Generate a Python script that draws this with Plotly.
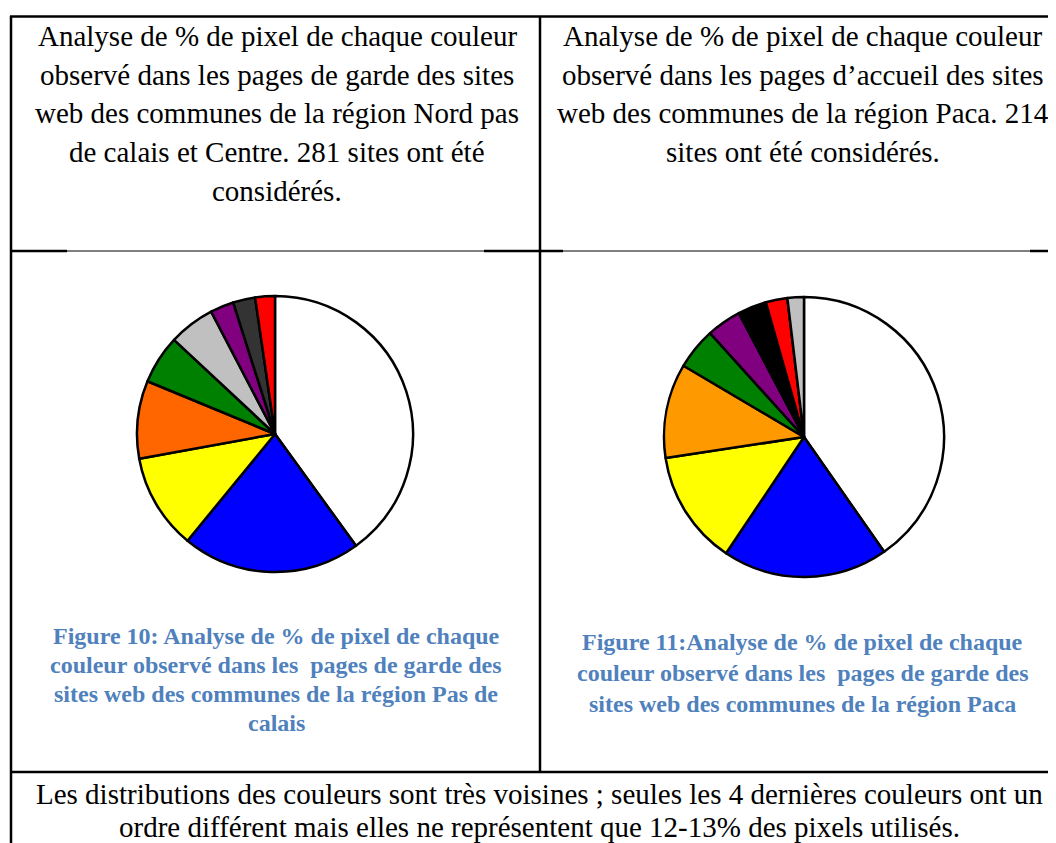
import plotly.graph_objects as go

W, H = 1056, 843
OFF = 8  # default page body margin of the HTML page
FW, FH = W - OFF, H - OFF

# ---- data ----
colors_left = ["white", "blue", "yellow", "orange", "green", "gray", "purple", "dark gray", "red"]
values_left = [40.0, 20.9, 11.2, 9.1, 5.7, 5.4, 2.75, 2.6, 2.3]
fill_left = ["#FFFFFF", "#0000FF", "#FFFF00", "#FF6600", "#008000", "#C0C0C0", "#800080", "#333333", "#FF0000"]

colors_right = ["white", "blue", "yellow", "orange", "green", "purple", "black", "red", "gray"]
values_right = [40.3, 19.1, 13.2, 10.9, 4.8, 4.0, 3.3, 2.5, 1.9]
fill_right = ["#FFFFFF", "#0000FF", "#FFFF00", "#FF9900", "#008000", "#800080", "#000000", "#FF0000", "#C0C0C0"]

top_left_lines = [
    "Analyse de % de pixel de chaque couleur",
    "observé dans les pages de garde des sites",
    "web des communes de la région Nord pas",
    "de calais et Centre. 281 sites ont été",
    "considérés.",
]
top_right_lines = [
    "Analyse de % de pixel de chaque couleur",
    "observé dans les pages d’accueil des sites",
    "web des communes de la région Paca. 214",
    "sites ont été considérés.",
]
caption_left_lines = [
    "Figure 10: Analyse de % de pixel de chaque",
    "couleur observé dans les  pages de garde des",
    "sites web des communes de la région Pas de",
    "calais",
]
caption_right_lines = [
    "Figure 11:Analyse de % de pixel de chaque",
    "couleur observé dans les  pages de garde des",
    "sites web des communes de la région Paca",
]
bottom_lines = [
    "Les distributions des couleurs sont très voisines ; seules les 4 dernières couleurs ont un",
    "ordre différent mais elles ne représentent que 12-13% des pixels utilisés.",
]


def px(x):
    return (x - OFF) / FW


def py(y):
    return 1 - (y - OFF) / FH


def pie_domain(cx, cy, r):
    return dict(x=[px(cx - r), px(cx + r)], y=[py(cy + r), py(cy - r)])


fig = go.Figure()
fig.add_trace(go.Pie(
    labels=colors_left, values=values_left, sort=False, direction="clockwise", rotation=0,
    marker=dict(colors=fill_left, line=dict(color="black", width=2.5)),
    textinfo="none", hoverinfo="label+percent", domain=pie_domain(275, 434, 138), showlegend=False,
))
fig.add_trace(go.Pie(
    labels=colors_right, values=values_right, sort=False, direction="clockwise", rotation=0,
    marker=dict(colors=fill_right, line=dict(color="black", width=2.5)),
    textinfo="none", hoverinfo="label+percent", domain=pie_domain(804, 437, 140), showlegend=False,
))

annotations = []
SERIF = "Liberation Serif, Times New Roman, serif"


def add_lines(lines, cx, y0, dy, size, color="black", bold=False):
    for i, t in enumerate(lines):
        txt = f"<b>{t}</b>" if bold else t
        annotations.append(dict(
            x=px(cx), y=py(y0 + i * dy), xref="paper", yref="paper", text=txt, showarrow=False,
            xanchor="center", yanchor="middle", font=dict(family=SERIF, size=size, color=color),
        ))


add_lines(top_left_lines, 277, 36, 38.7, 29)
add_lines(top_right_lines, 803, 36, 38.7, 29)
add_lines(caption_left_lines, 276, 636, 29, 24, color="#4F81BD", bold=True)
add_lines(caption_right_lines, 803, 642, 31, 24, color="#4F81BD", bold=True)
add_lines(bottom_lines, 539, 794, 33, 29)

shapes = []


def hline(x0, x1, y, w):
    shapes.append(dict(type="line", xref="paper", yref="paper", x0=px(x0), x1=px(x1), y0=py(y), y1=py(y),
                       line=dict(color="black", width=w)))


def vline(x, y0, y1, w):
    shapes.append(dict(type="line", xref="paper", yref="paper", x0=px(x), x1=px(x), y0=py(y0), y1=py(y1),
                       line=dict(color="black", width=w)))


hline(10, W, 16.5, 2.5)
vline(11, 16, H, 2.5)
vline(540, 16, 773, 2.5)
hline(11, W, 251, 1.2)
hline(11, 67, 251, 2.5)
hline(484, 563, 251, 2.5)
hline(1030, W, 251, 2.5)
hline(10, W, 772, 2.5)

fig.update_layout(
    width=FW, height=FH, margin=dict(l=0, r=0, t=0, b=0),
    paper_bgcolor="white", plot_bgcolor="white",
    annotations=annotations, shapes=shapes, showlegend=False,
)

fig.write_html("out.html")
